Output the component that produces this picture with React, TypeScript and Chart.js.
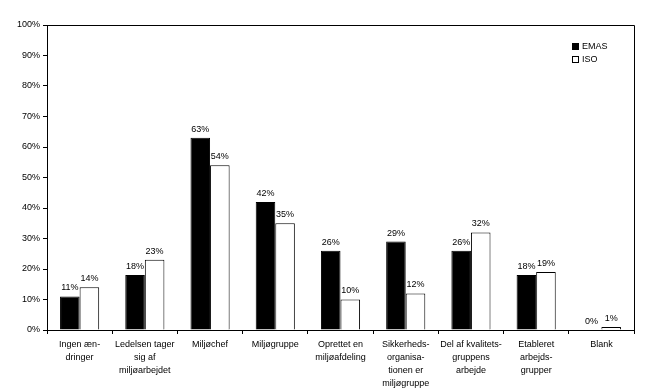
import React, { useEffect, useRef } from "react";
import { Chart, registerables } from "chart.js";

Chart.register(...registerables);

const categories: string[][] = [
  ["Ingen æn-", "dringer"],
  ["Ledelsen tager", "sig af", "miljøarbejdet"],
  ["Miljøchef"],
  ["Miljøgruppe"],
  ["Oprettet en", "miljøafdeling"],
  ["Sikkerheds-", "organisa-", "tionen er", "miljøgruppe"],
  ["Del af kvalitets-", "gruppens", "arbejde"],
  ["Etableret", "arbejds-", "grupper"],
  ["Blank"],
];
const emasValues = [11, 18, 63, 42, 26, 29, 26, 18, 0];
const isoValues = [14, 23, 54, 35, 10, 12, 32, 19, 1];
const seriesNames = ["EMAS", "ISO"];

const FONT = "'Liberation Sans', 'DejaVu Sans', sans-serif";

const framePlugin = {
  id: "frame",
  afterDatasetsDraw(chart: any) {
    const { ctx, chartArea } = chart;
    ctx.save();
    ctx.strokeStyle = "#000";
    ctx.lineWidth = 1;
    ctx.beginPath();
    const l = Math.round(chartArea.left) + 0.5;
    const r = Math.round(chartArea.right) + 0.5;
    const t = Math.round(chartArea.top) + 0.5;
    const b = Math.round(chartArea.bottom) + 0.5;
    ctx.moveTo(l, b);
    ctx.lineTo(l, t);
    ctx.lineTo(r, t);
    ctx.lineTo(r, b);
    ctx.lineTo(l, b);
    ctx.stroke();

    // value labels
    ctx.fillStyle = "#000";
    ctx.font = `9px ${FONT}`;
    ctx.textAlign = "center";
    ctx.textBaseline = "bottom";
    chart.data.datasets.forEach((ds: any, di: number) => {
      const meta = chart.getDatasetMeta(di);
      meta.data.forEach((el: any, i: number) => {
        ctx.fillText(ds.data[i] + "%", el.x, el.y - 4);
      });
    });

    // legend
    const lx = chartArea.right - 62;
    const ly = chartArea.top + 22;
    chart.data.datasets.forEach((ds: any, di: number) => {
      const y = ly + di * 13;
      ctx.fillStyle = ds.backgroundColor;
      ctx.fillRect(lx + 0.5, y - 3.5, 6, 6);
      ctx.strokeStyle = "#000";
      ctx.strokeRect(lx + 0.5, y - 3.5, 6, 6);
      ctx.fillStyle = "#000";
      ctx.textAlign = "left";
      ctx.textBaseline = "middle";
      ctx.fillText(ds.label, lx + 10, y);
    });
    ctx.restore();
  },
};

export default function App() {
  const ref = useRef<HTMLCanvasElement | null>(null);
  useEffect(() => {
    if (!ref.current) return;
    const chart = new Chart(ref.current, {
      type: "bar",
      data: {
        labels: categories,
        datasets: [
          {
            label: seriesNames[0],
            data: emasValues,
            backgroundColor: "#000000",
            borderColor: "#000000",
            borderWidth: 1,
            categoryPercentage: 0.6,
            barPercentage: 1,
          },
          {
            label: seriesNames[1],
            data: isoValues,
            backgroundColor: "#ffffff",
            borderColor: "#000000",
            borderWidth: 1,
            categoryPercentage: 0.6,
            barPercentage: 1,
          },
        ],
      },
      options: {
        animation: false,
        responsive: false,
        layout: { padding: { left: 0, right: 14, top: 25, bottom: 0 } },
        plugins: { legend: { display: false }, tooltip: { enabled: false } },
        scales: {
          x: {
            grid: {
              offset: true,
              drawOnChartArea: false,
              drawTicks: true,
              tickLength: 4,
              color: "#000",
            },
            border: { display: true, color: "#000" },
            ticks: {
              color: "#000",
              font: { size: 9, family: FONT, lineHeight: 1.45 },
              maxRotation: 0,
              minRotation: 0,
              autoSkip: false,
              padding: 4,
            },
            afterFit(scale: any) {
              scale.height = 59;
            },
          },
          y: {
            min: 0,
            max: 100,
            grid: {
              drawOnChartArea: false,
              drawTicks: true,
              tickLength: 4,
              color: "#000",
            },
            border: { display: true, color: "#000" },
            ticks: {
              stepSize: 10,
              color: "#000",
              font: { size: 9, family: FONT },
              padding: 3,
              callback: (v: any) => v + "%",
            },
            afterFit(scale: any) {
              scale.width = 47;
            },
          },
        },
      },
      plugins: [framePlugin],
    });
    return () => chart.destroy();
  }, []);
  return (
    <div style={{ position: "fixed", left: 0, top: 0, width: 648, height: 389, background: "#fff" }}>
      <canvas ref={ref} width={648} height={389} />
    </div>
  );
}
